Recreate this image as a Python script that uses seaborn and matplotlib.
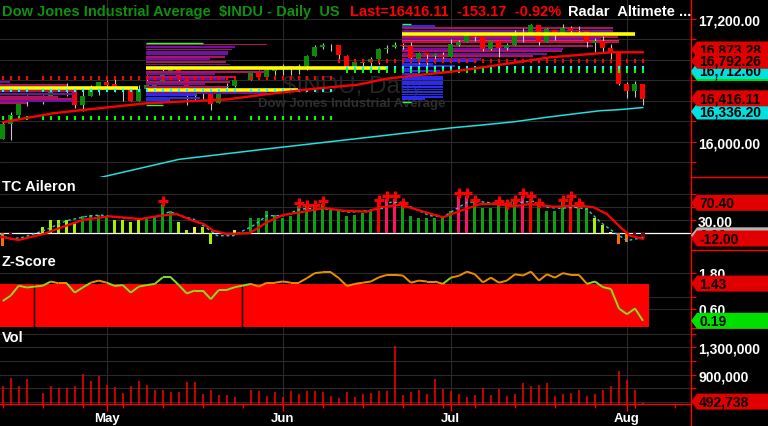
import numpy as np
import pandas as pd
import matplotlib
matplotlib.use('Agg')
import matplotlib.pyplot as plt
from matplotlib.patches import Polygon
from matplotlib.lines import Line2D
from matplotlib.collections import LineCollection
import seaborn as sns

# ---------------- data ----------------
# chart calendar: holidays keep an empty slot (Jul 4 has none on this chart)
cal = pd.bdate_range('2014-04-14', '2014-08-05')
cal = cal[cal != pd.Timestamp('2014-07-04')]
holidays = pd.to_datetime(['2014-04-18', '2014-05-26'])
days = cal.drop(holidays)

opens = [16027, 16175, 16264, 16424, 16408, 16449, 16514, 16503, 16500, 16363, 16449, 16535,
         16581, 16561, 16510, 16530, 16403, 16519, 16550, 16584, 16696, 16716, 16613, 16446, 16489, 16510,
         16376, 16534, 16545, 16607, 16675, 16634, 16697,
         16716, 16742, 16720, 16737, 16837, 16924, 16942, 16944, 16843, 16735, 16772, 16779, 16808, 16907,
         16922, 16946, 16938, 16814, 16867, 16842, 16851,
         16829, 16949, 16978, 17063, 17022, 16907, 16984, 16915, 16944, 17055, 17062, 17137, 16977, 17096,
         17052, 17113, 17087, 17084, 16961, 16983, 16917, 16875,
         16566, 16495, 16566]
highs = [16196, 16292, 16425, 16460, 16457, 16545, 16535, 16576, 16500, 16516, 16552, 16581,
         16605, 16632, 16531, 16532, 16554, 16652, 16586, 16710, 16736, 16716, 16614, 16491, 16512, 16510,
         16533, 16571, 16607, 16676, 16700, 16716, 16735,
         16765, 16742, 16760, 16845, 16949, 16970, 16957, 16944, 16848, 16802, 16807, 16830, 16919, 16950,
         16978, 16969, 16971, 16877, 16867, 16856, 16878,
         17002, 16993, 17074, 17067, 17022, 16986, 16984, 16964, 17089, 17109, 17151, 17142, 17112, 17096,
         17149, 17128, 17134, 17086, 17015, 17037, 16956, 16878,
         16582, 16598, 16568]
lows = [16024, 16015, 16264, 16349, 16374, 16449, 16493, 16448, 16334, 16300, 16449, 16462,
        16511, 16491, 16395, 16397, 16402, 16512, 16472, 16584, 16681, 16591, 16360, 16401, 16419, 16316,
        16376, 16514, 16541, 16607, 16621, 16634, 16658,
        16652, 16658, 16660, 16706, 16837, 16910, 16887, 16806, 16703, 16718, 16710, 16746, 16761, 16870,
        16920, 16908, 16801, 16764, 16747, 16771, 16799,
        16829, 16934, 16978, 16983, 16886, 16901, 16825, 16894, 16944, 16980, 17052, 16946, 16977, 16999,
        17052, 17064, 17063, 16930, 16878, 16866, 16810, 16556,
        16430, 16442, 16364]
closes = [16173, 16263, 16425, 16409, 16449, 16514, 16502, 16501, 16361, 16449, 16535, 16581,
          16559, 16513, 16531, 16401, 16519, 16551, 16583, 16695, 16715, 16614, 16447, 16491, 16512, 16374,
          16533, 16543, 16606, 16676, 16633, 16699, 16717,
          16744, 16722, 16738, 16836, 16924, 16943, 16946, 16844, 16734, 16776, 16781, 16808, 16907, 16921,
          16947, 16937, 16818, 16868, 16846, 16852, 16827,
          16956, 16976, 17068, 17024, 16907, 16986, 16915, 16944, 17055, 17061, 17138, 16977, 17100, 17052,
          17114, 17087, 17084, 16975, 16983, 16912, 16880, 16563,
          16493, 16569, 16416]

volume = [730650, 847400, 730650, 837200,
          632900, 730650, 701450, 701450, 730650, 910200, 803600, 876600, 749600, 716000, 632900, 730650,
          803600, 749600, 676600, 676600, 643000, 643000, 789000, 789000, 618200, 676600, 603600, 603600, 570000,
          676600, 657600, 584700, 643000, 570000, 657600, 618200, 657600, 657600, 643000, 584700, 555500,
          643000, 570000, 618200, 632900, 657600, 657600, 1314600, 603600, 643000, 676600, 618200, 837200,
          691200, 657600, 618200, 570000, 603600, 701450, 603600, 691200, 584700, 618200, 778800, 730650,
          749600, 778800, 584700, 618200, 632900, 676600, 584700, 618200, 676600, 730650, 949600, 822600,
          676600, 492738]

# TC Aileron histogram and colour class of each bar
tc_hist = [-28.6, -3, 0.5, 1,
           13.8, 30.7, 30.7, 30.7, 25, 40, 41.5, 41.5, 37, 30.7, 30.7, 27, 30.7, 33, 38.5, 67.6, 50.8, 27,
           8.3, 14.5, 14.5, -24.7, 0.3, -2, 7.6,
           35.4, 35.4, 51.5, 41.5, 35.4, 40, 63.7, 60, 60, 67.6, 58.4, 51.5, 40, 43.2, 46.2, 54.6, 71.5, 79,
           79, 63.7, 40.6, 35.4, 35.4, 35.4, 35.4, 52, 86.8, 86.8, 71.5, 57.6, 57.6, 67.6, 62.3, 71.5, 86.8,
           79, 63.7, 52, 52, 71.5, 79, 63.7, 57.6, 34.6, 19.2, 3, -24.7, -20.8, -3, -12]
tc_kind = ('odyy' + 'lllllggggllllggggllyllodyy'[:25] +
           'gggggggggg' + 'ggggggrppg' + 'ggggggppgg' + 'ggggprgggg' + 'rggllyoodd')
tc_signal_x = [-0.3, 1.95, 5.1, 6.75, 10.1, 13.4, 17.2, 19.7, 21.75, 23.8, 25.1, 26.3, 28, 30.9, 33, 35,
               37.2, 40.1, 42.6, 45.5, 47.2, 49.7, 52.2, 55, 57.2, 59.7, 61.8, 63.8, 65.9, 68.8, 72.2,
               73.8, 75.5, 77.2, 78.4, 80]
tc_signal = [-7.8, -15.5, -1.6, 9.9, 31.4, 39.2, 33, 40.6, 44.5, 29, 21.5, 6, -1.6, 0.7, 25.4, 42.2,
             48.5, 58.4, 52.2, 49.9, 60, 66, 52, 36.9, 52, 67.6, 67.6, 62.3, 67.6, 61.4, 63.7,
             60, 44.5, 13.8, -5.5, -13]
tc_fast_x = [-0.3, 0.9, 2.6, 5.1, 8, 10.5, 12.2, 14.2, 17.2, 19.2, 20.9, 22.2, 23.8, 25.1, 26.8, 28.8,
             31.3, 33, 35.1, 37.2, 39.2, 41.3, 43.4, 45.5, 47.6, 48.4, 50.1, 51.3, 53.4, 55.1, 56.3, 58,
             59.7, 62.2, 64.7, 66.4, 68, 69.7, 71.4, 73, 74.7, 76.4, 78, 80.1]
tc_fast = [-1.6, -13.2, -9.2, 6, 29.1, 39.2, 42.2, 36.9, 33, 38.3, 49.9, 40.6, 33, 17.5, -5.5, -5.5,
           17.5, 40.6, 40.6, 56, 57.7, 54.5, 48.5, 52.2, 57.7, 71.5, 71.5, 57.7, 40.6, 38.3, 52.2, 71.5,
           73, 67.6, 71.5, 73.8, 60, 57.7, 60, 56, 25.4, 2.3, -17, -9.2]

# Z-Score line, colour of each segment (o = orange, g = green), band level
zscore = [0.85, 1.03, 1.36, 1.30,
          1.36, 1.50, 1.44, 1.44, 1.13, 1.30, 1.46, 1.53, 1.46, 1.35, 1.38, 1.13, 1.33, 1.38, 1.42, 1.64,
          1.64, 1.38, 1.10, 1.20, 1.20, 0.91, 1.22, 1.22, 1.31,
          1.42, 1.33, 1.46, 1.46, 1.50, 1.46, 1.46, 1.61, 1.78, 1.81, 1.81, 1.61, 1.35, 1.42, 1.46, 1.50,
          1.64, 1.72, 1.72, 1.70, 1.46, 1.53, 1.50, 1.50, 1.42, 1.63, 1.69, 1.83, 1.74, 1.47, 1.63, 1.46,
          1.53, 1.74, 1.70, 1.83, 1.53, 1.74, 1.63, 1.78, 1.72, 1.72, 1.42, 1.50, 1.31, 1.25, 0.60, 0.41,
          0.60, 0.19]
z_kind = 'gggg' + 'googgg' + 'oo' + 'g' * 17 + 'o' * 24 + 'g' + 'o' * 17 + 'g' * 8
z_band = 1.43

# moving averages (bar index, price)
ma_red_x = [0, 6.3, 10, 18, 28, 33.2, 38.7, 44.4, 47.8, 51.2, 56, 60, 64.3, 68.4, 72.5, 75.9, 80]
ma_red = [16192, 16280, 16312, 16378, 16415, 16468, 16517, 16559, 16615, 16647, 16685, 16729, 16778,
          16826, 16852, 16875, 16875]
ma_cyan_x = [12, 22, 33, 56, 60, 64, 68, 72, 74.7, 77, 80]
ma_cyan = [15650, 15830, 15932, 16137, 16166, 16198, 16241, 16280, 16305, 16315, 16336]

# Radar levels: (first day, last day, price)
red_levels = [('2014-04-14', '2014-06-10', 16624), ('2014-06-11', '2014-08-05', 16792.26)]
cyan_levels = [('2014-04-14', '2014-06-10', 16498)]
green_levels = [('2014-04-14', '2014-06-10', 16234)]
dual_levels = [('2014-06-12', '2014-08-05', 16712)]

# volume-at-price profiles: start index, row prices, row end index, row colour class
prof_a_start = -0.4
prof_a_price = [16582, 16559, 16495, 16468, 16442, 16420, 16397, 16378]
prof_a_end = [0.9, 8.0, 9.3, 9.0, 6.9, 9.0, 8.8, 3.0]
prof_a_kind = 'pmmpmmpm'
prof_b_start = 17.9
prof_b_price = [16951, 16927, 16902, 16878, 16854, 16829, 16805, 16780, 16756, 16683, 16659, 16634,
                16610, 16585, 16561, 16537, 16478, 16454, 16429, 16405, 16380]
prof_b_end = [33.0, 29.0, 28.7, 28.2, 28.2, 27.8, 25.9, 27.9, 28.4, 32.8, 26.5, 29.0, 27.8, 28.4,
              25.3, 28.0, 33.0, 24.0, 24.7, 20.9, 20.0]
prof_b_kind = 'mpmppmpmpmpmpmpmpbbbb'
prof_c_start = 49.9
prof_c_price = [17129, 17109, 17086, 17021, 17005, 16988, 16973, 16956, 16934, 16907, 16885, 16859,
                16836, 16810, 16793, 16761, 16737, 16712, 16688, 16663, 16634, 16610, 16585, 16561,
                16537, 16512, 16488, 16463, 16439, 16415]
prof_c_end = [54.0, 76.3, 76.3, 76.9, 74.7, 77.0, 77.0, 76.5, 73.8, 70.0, 69.9, 68.0, 66.3, 59.7,
              59.3, 53.8, 56.5, 51.2, 54.7, 52.2, 55.0, 55.0, 55.0, 55.0, 55.0, 55.0, 55.0, 55.0,
              55.0, 52.8]
prof_c_kind = 'bmpmprmrmpmpmp' + 'b' * 16
poc_lines = [(-0.4, 16.9, 16524), (17.9, 48.0, 16719), (17.9, 36.9, 16504), (49.9, 79.0, 17054)]
edge_lines = [(17.9, 25.0, 16961), (17.9, 20.0, 16364), (49.9, 51.0, 17151), (49.9, 51.0, 16387)]

# ---------------- style ----------------
W, H = 768, 427
PLOT_R = 691
X_LEFT, X_RIGHT = -0.34, 86.0
GRID = '#2a2a2a'
RED = '#ff0000'
sns.set_style('dark', {'axes.facecolor': 'black', 'figure.facecolor': 'black'})
plt.rcParams['font.family'] = ['Liberation Sans', 'DejaVu Sans']
plt.rcParams['patch.force_edgecolor'] = False
plt.rcParams['patch.edgecolor'] = 'none'
plt.rcParams['patch.linewidth'] = 0

x = cal.get_indexer(days)
x_hol = cal.get_indexer(holidays)
month_x = [cal.get_indexer([cal[cal.month == m][0]])[0] for m in (5, 6, 7, 8)]
monday_x = list(cal.get_indexer(cal[cal.weekday == 0])) + [84]

fig = plt.figure(figsize=(W / 100, H / 100), dpi=100)


def fx(px):
    return px / W


def fy(py):
    return 1 - py / H


def panel(top, bottom, ylim, ticks, labels):
    ax = fig.add_axes([0, fy(bottom), fx(PLOT_R), (bottom - top) / H])
    ax.set_facecolor('black')
    for s in ax.spines.values():
        s.set_visible(False)
    ax.set_xlim(X_LEFT, X_RIGHT)
    ax.set_ylim(*ylim)
    ax.grid(False)
    ax.yaxis.tick_right()
    ax.set_yticks(ticks)
    ax.set_yticklabels(labels)
    ax.tick_params(axis='y', colors=RED, labelcolor='white', length=3.6, width=0.8, pad=1.5, labelsize=10)
    for t in ax.get_yticklabels():
        t.set_fontweight('bold')
    ax.tick_params(axis='x', bottom=False, labelbottom=False)
    for v in ticks:
        ax.axhline(v, color=GRID, lw=0.8, zorder=0)
    for xm in month_x:
        ax.axvline(xm, color=GRID, lw=0.8, zorder=0)
    return ax


# ---------------- price panel ----------------
ax = panel(0, 178, (15658, 17395), np.arange(15800, 17400, 200),
           ['', '16,000.00', '', '', '', '', '', '17,200.00'])

ax.text(fx(283), fy(92.5), '$INDU, Daily', transform=fig.transFigure, color='#262626',
        fontsize=17.5, va='baseline', zorder=1)
ax.text(fx(258), fy(107), 'Dow Jones Industrial Average', transform=fig.transFigure, color='#2e2e2e',
        fontsize=9.5, fontweight='bold', va='baseline', zorder=1)

o, h, l, c = map(np.array, (opens, highs, lows, closes))
up = c >= o
ax.vlines(x, l, h, color='#c8c8c8', lw=0.8, zorder=3)
body = np.maximum(np.abs(c - o), 8)
ax.bar(x, body, bottom=np.minimum(o, c), width=0.62, color=np.where(up, '#0a8c0a', RED),
       linewidth=0, edgecolor='none', zorder=3.2)

PROF_COL = {'m': '#b0125c', 'p': '#7010a8', 'b': '#2a2af0', 'r': '#ff2020'}
for start, price, end, kind, z in ((prof_a_start, prof_a_price, prof_a_end, prof_a_kind, 4),
                                   (prof_b_start, prof_b_price, prof_b_end, prof_b_kind, 4),
                                   (prof_c_start, prof_c_price, prof_c_end, prof_c_kind, 2.5)):
    ax.barh(price, np.array(end) - start, left=start, height=[8 if k == 'r' else 19 for k in kind],
            color=[PROF_COL[k] for k in kind], linewidth=0, edgecolor='none', zorder=z)
for x0, x1, p in poc_lines:
    ax.hlines(p, x0, x1, color='#ffff00', lw=2.6, zorder=4.5)
for x0, x1, p in edge_lines:
    ax.hlines(p, x0, x1, color='#30ff30', lw=1.0, zorder=4.5)


def level_x(d0, d1):
    sel = (days >= pd.Timestamp(d0)) & (days <= pd.Timestamp(d1))
    return x[sel]


for d0, d1, p in red_levels:
    ax.vlines(level_x(d0, d1), p - 18, p + 18, color=RED, lw=1.5, zorder=5)
for d0, d1, p in cyan_levels:
    ax.vlines(level_x(d0, d1), p - 15, p + 15, color='#00ffff', lw=1.5, zorder=5)
for d0, d1, p in green_levels:
    ax.vlines(level_x(d0, d1), p - 21, p + 21, color='#00ff00', lw=1.5, zorder=5)
for d0, d1, p in dual_levels:
    ax.vlines(level_x(d0, d1), p, p + 33, color='#00ffff', lw=1.5, zorder=5)
    ax.vlines(level_x(d0, d1), p - 36, p, color='#00ff00', lw=1.5, zorder=5)

sns.lineplot(x=ma_red_x, y=ma_red, ax=ax, color=RED, lw=1.7, zorder=6, sort=False)
sns.lineplot(x=ma_cyan_x, y=ma_cyan, ax=ax, color='#20e0e0', lw=1.1, zorder=6, sort=False)
ax.set_xlim(X_LEFT, X_RIGHT)
ax.set_ylim(15658, 17395)
ax_price = ax

# ---------------- TC Aileron ----------------
ax = panel(178, 251, (-38.5, 129.9), [0, 30, 60, 90], ['', '30.00', '', ''])
ax.axhline(0, color='white', lw=0.9, zorder=1)
TC_COL = {'o': '#ff6a00', 'd': '#8b0000', 'y': '#e8f040', 'l': '#a6f000', 'g': '#12a012',
          'p': '#ff1464', 'r': '#ff0000'}
tc = np.array(tc_hist)
ax.bar(x, tc, width=0.38, color=[TC_COL[k] for k in tc_kind], linewidth=0, edgecolor='none', zorder=2)
strong = tc >= 60
ax.plot(x[strong], tc[strong] + 6, '+', color=RED, ms=6.5, mew=2.2, zorder=4)
sns.lineplot(x=tc_fast_x, y=tc_fast, ax=ax, color='#20d0d0', lw=1.0, linestyle=(0, (2, 2)),
             zorder=3, sort=False)
sns.lineplot(x=tc_signal_x, y=tc_signal, ax=ax, color=RED, lw=1.6, zorder=3.5, sort=False)
ax.set_xlim(X_LEFT, X_RIGHT)
ax.set_ylim(-38.5, 129.9)
ax_tc = ax

# ---------------- Z-Score ----------------
ax = panel(251, 329, (-0.05, 2.55), [0.6, 1.0, 1.8], ['0.60', '', '1.80'])
ax.fill_between([X_LEFT, x[-1] + 0.8], 0, z_band, color=RED, lw=0, zorder=1)
ax.vlines(x_hol - 0.1, 0, z_band, color='black', lw=1.0, zorder=1.5)
pts = np.column_stack([x, zscore])
segs = np.stack([pts[:-1], pts[1:]], axis=1)
ax.add_collection(LineCollection(segs, colors=['#f08c00' if k == 'o' else '#80e020' for k in z_kind[:-1]],
                                 lw=1.4, zorder=3))
ax_z = ax

# ---------------- Volume ----------------
ax = panel(329, 405, (472240, 1581760), [500000, 700000, 900000, 1100000, 1300000, 1500000],
           ['', '', '900,000', '', '1,300,000', ''])
ax.vlines(x, 0, volume, color=RED, lw=1.1, zorder=2)
ax.spines['bottom'].set_visible(True)
ax.spines['bottom'].set_color(RED)
ax.spines['bottom'].set_linewidth(1.0)
ax.set_xticks(month_x)
ax.set_xticklabels(['May', 'Jun', 'Jul', 'Aug'])
ax.set_xticks(monday_x, minor=True)
ax.tick_params(axis='x', which='major', bottom=True, labelbottom=True, length=5, width=1, color=RED,
               labelcolor='white', labelsize=9.5, pad=0.5)
ax.tick_params(axis='x', which='minor', bottom=True, length=3, width=1, color=RED)
for t in ax.get_xticklabels():
    t.set_fontweight('bold')
ax.set_xlim(X_LEFT, X_RIGHT)
ax_vol = ax

# ---------------- frame, titles, tags ----------------
fig.add_artist(Line2D([fx(PLOT_R)] * 2, [0, 1], color=RED, lw=1))
for yy in (178, 251, 329):
    fig.add_artist(Line2D([fx(PLOT_R), 1], [fy(yy)] * 2, color=RED, lw=1))

fig.text(fx(2), fy(12), 'Dow Jones Industrial Average  $INDU - Daily  US', color='#109010',
         fontsize=10.5, fontweight='bold', va='center')
fig.text(fx(350), fy(12), 'Last=16416.11  -153.17  -0.92%', color=RED, fontsize=10.5,
         fontweight='bold', va='center')
fig.text(fx(568), fy(12), 'Radar  Altimete ...', color='white', fontsize=10.5, fontweight='bold',
         va='center')
for label, yy in (('TC Aileron', 187), ('Z-Score', 262), ('Vol', 338)):
    fig.text(fx(2), fy(yy), label, color='white', fontsize=10.5, fontweight='bold', va='center')

_z = [10]


def tag(ax, value, label, color, shift=0, tcolor='black'):
    yd = ax.transData.transform((0, value))[1] + shift
    pts = [(PLOT_R, yd), (PLOT_R + 6, yd + 8), (W, yd + 8), (W, yd - 8), (PLOT_R + 6, yd - 8)]
    fig.add_artist(Polygon([(px / W, py / H) for px, py in pts], closed=True,
                           transform=fig.transFigure, fc=color, ec='none', zorder=_z[0]))
    fig.text(fx(699), yd / H, label, color=tcolor, fontsize=10, fontweight='bold', va='center',
             ha='left', zorder=_z[0] + 1)
    _z[0] += 2


tag(ax_price, 16873.28, '16,873.28', '#e00000', shift=3)
tag(ax_price, 16712, '16,712.60', '#00e000', shift=-4)
tag(ax_price, 16712, '16,712.60', '#00e0e0', shift=-2)
tag(ax_price, 16792.26, '16,792.26', '#e00000')
tag(ax_price, 16336.2, '16,336.20', '#00e0e0', shift=-4)
tag(ax_price, 16416.11, '16,416.11', '#e00000', shift=1)
tag(ax_tc, 70.4, '70.40', '#e00000')
tag(ax_tc, 0, '0.00', '#b4b4b4', shift=-2)
tag(ax_tc, -12, '-12.00', '#e00000')
tag(ax_z, 1.43, '1.43', '#e00000')
tag(ax_z, 0.19, '0.19', '#00e000')
tag(ax_vol, 492738, '492,738', '#e00000', shift=1)

fig.savefig('out.png', dpi=100, facecolor='black')
